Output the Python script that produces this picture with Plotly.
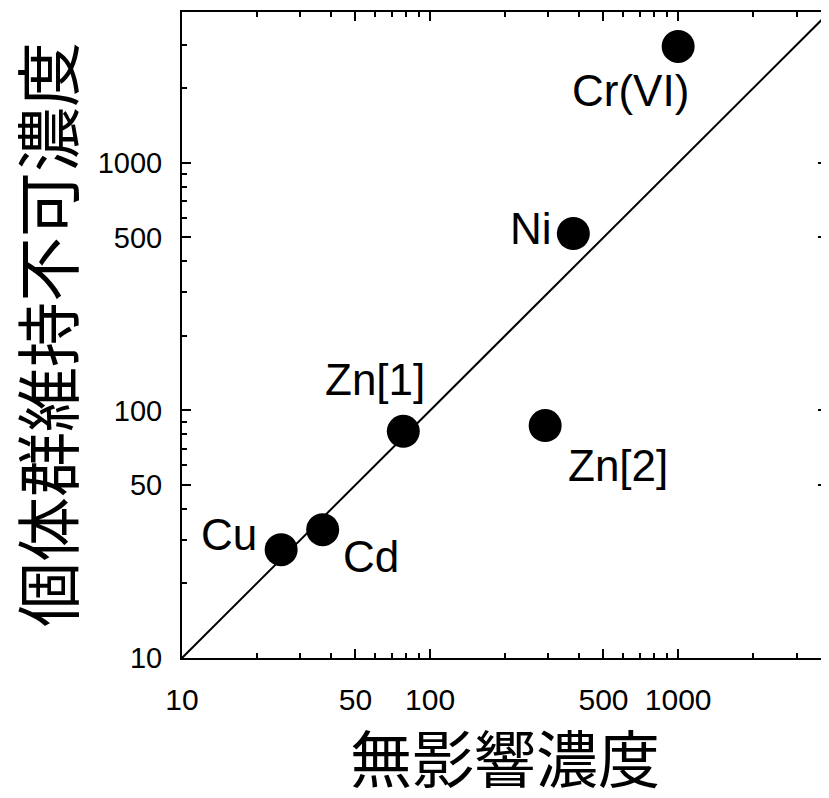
import math
import plotly.graph_objects as go

names = ["Cu", "Cd", "Zn[1]", "Zn[2]", "Ni", "Cr(VI)"]
noec = [25.1, 36.9, 78.0, 291, 378, 1000]
popconc = [27.4, 33.0, 82.4, 86.9, 519, 2958]
label_dx = [-52, 48, -28, 73, -42, -48]
label_dy = [-15, 27, -52, 40, -5, 44]

diag = [10, 4000]
major_ticks = [10, 50, 100, 500, 1000]
major_text = ["10", "50", "100", "500", "1000"]
minor_ticks = [20, 30, 40, 60, 70, 80, 90, 200, 300, 400, 600, 700, 800, 900, 2000, 3000]

xtitle = "無影響濃度"
ytitle = "個体群維持不可濃度"

fig = go.Figure()
fig.add_trace(go.Scatter(x=diag, y=diag, mode="lines",
                         line=dict(color="black", width=2), hoverinfo="skip"))
fig.add_trace(go.Scatter(x=noec, y=popconc, mode="markers", text=names,
                         marker=dict(color="black", size=33)))

for n, x, y, dx, dy in zip(names, noec, popconc, label_dx, label_dy):
    fig.add_annotation(x=math.log10(x), y=math.log10(y), xref="x", yref="y", text=n,
                       showarrow=True, arrowcolor="rgba(0,0,0,0)", arrowwidth=0.1,
                       ax=dx, ay=dy,
                       font=dict(family="Liberation Sans, Arial", size=44, color="black"))

fig.add_annotation(x=0.5, y=-(756 - 658) / 646, xref="paper", yref="paper",
                   text=xtitle, showarrow=False, xanchor="center", yanchor="middle",
                   font=dict(family="Noto Sans CJK JP", size=62, color="black"))
fig.add_annotation(x=(45 - 182) / 645, y=0.5, xref="paper", yref="paper",
                   text=ytitle, showarrow=False, xanchor="center", yanchor="middle",
                   textangle=-90,
                   font=dict(family="Noto Sans CJK JP", size=65, color="black"))

axis_common = dict(type="log", showgrid=False, zeroline=False,
                   showline=True, linecolor="black", linewidth=2, mirror="ticks",
                   ticks="inside", ticklen=9, tickwidth=2, tickcolor="black",
                   tickmode="array", tickvals=major_ticks, ticktext=major_text,
                   minor=dict(tickmode="array", tickvals=minor_ticks, ticks="inside",
                              ticklen=5, tickwidth=2, tickcolor="black", showgrid=False))

fig.update_xaxes(**axis_common, range=[1, 3.6], ticklabelstandoff=14,
                 tickfont=dict(family="Liberation Sans, Arial", size=30, color="black"))
fig.update_yaxes(**axis_common, range=[1, 3.61], ticklabelstandoff=12,
                 tickfont=dict(family="Liberation Sans, Arial", size=29, color="black"))

fig.update_layout(width=821, height=790, showlegend=False,
                  margin=dict(l=174, r=2, t=4, b=140, autoexpand=False),
                  plot_bgcolor="white", paper_bgcolor="white")

fig.write_html("out.html")
